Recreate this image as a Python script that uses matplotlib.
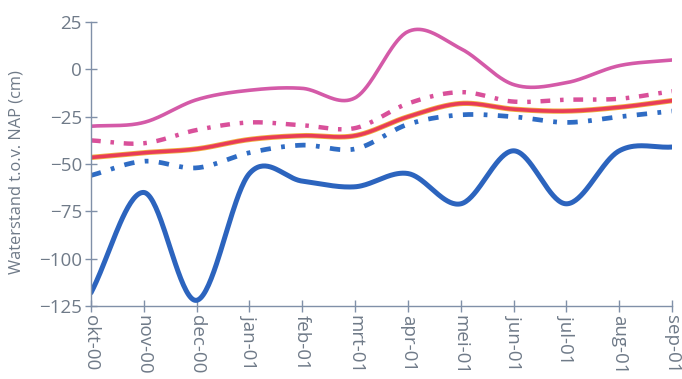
import numpy as np
import matplotlib
matplotlib.use("Agg")
import matplotlib.pyplot as plt

months = ["okt-00", "nov-00", "dec-00", "jan-01", "feb-01", "mrt-01",
          "apr-01", "mei-01", "jun-01", "jul-01", "aug-01", "sep-01"]

hoogste = [-30, -28, -16, -11, -10, -15, 20, 11, -8, -7, 2, 5]
hoog_gem = [-37.5, -39, -32, -28, -29.5, -31, -18, -12, -17, -16, -15.5, -11.5]
gemiddeld = [-46.5, -44, -42, -37, -35, -35, -25, -18, -21, -22, -20, -16.5]
laag_gem = [-56, -48.5, -52, -44, -40, -42, -29, -24, -25, -28, -25, -22]
laagste = [-118, -65, -122, -55, -59, -62, -55, -71, -43, -71, -43, -41]


def smooth(y, steps=40):
    """Catmull-Rom curve through the monthly values."""
    y = np.asarray(y, float)
    x = np.arange(len(y), dtype=float)
    p = np.concatenate([[2 * y[0] - y[1]], y, [2 * y[-1] - y[-2]]])
    xs, ys = [], []
    for i in range(len(y) - 1):
        p0, p1, p2, p3 = p[i], p[i + 1], p[i + 2], p[i + 3]
        t = np.linspace(0, 1, steps, endpoint=False)
        yy = 0.5 * ((2 * p1) + (-p0 + p2) * t + (2 * p0 - 5 * p1 + 4 * p2 - p3) * t ** 2
                    + (-p0 + 3 * p1 - 3 * p2 + p3) * t ** 3)
        xs.append(x[i] + t)
        ys.append(yy)
    xs.append([x[-1]])
    ys.append([y[-1]])
    return np.concatenate(xs), np.concatenate(ys)


fig = plt.figure(figsize=(6.82, 3.79), dpi=100)
ax = fig.add_axes([0.1334, 0.1926, 0.852, 0.749])

grey = "#6f7a88"
spine_col = "#8090a8"
fsize = 13.5

xs, ys = smooth(hoogste)
ax.plot(xs, ys, color="#d45aa8", lw=2.6, solid_capstyle="round")

xs, ys = smooth(hoog_gem)
ax.plot(xs, ys, color="#d9509a", lw=3.2, dashes=(2.2, 2.2, 0.8, 2.2))

xs, ys = smooth(gemiddeld)
ax.plot(xs, ys, color="#f0b040", lw=3.8, solid_capstyle="round")
ax.plot(xs, ys, color="#e83c58", lw=2.6, solid_capstyle="round")

xs, ys = smooth(laag_gem)
ax.plot(xs, ys, color="#2f6cc4", lw=3.4, dashes=(2.2, 2.2, 0.8, 2.2))

xs, ys = smooth(laagste)
ax.plot(xs, ys, color="#2c64be", lw=3.6, solid_capstyle="round")

ax.set_xlim(0, len(months) - 1)
ax.set_ylim(-125, 25)
ax.set_yticks([25, 0, -25, -50, -75, -100, -125])
ax.set_xticks(range(len(months)))
ax.set_xticklabels(months, rotation=-90, va="top", ha="center")

for s in ["top", "right"]:
    ax.spines[s].set_visible(False)
for s in ["left", "bottom"]:
    ax.spines[s].set_color(spine_col)
    ax.spines[s].set_linewidth(1.0)

ax.tick_params(axis="both", direction="inout", length=9, width=1.0,
               color=spine_col, labelcolor=grey, labelsize=fsize)
ax.tick_params(axis="x", pad=2)
ax.tick_params(axis="y", pad=2)
for lab in ax.get_xticklabels() + ax.get_yticklabels():
    lab.set_family("Open Sans")

ax.set_ylabel("Waterstand t.o.v. NAP (cm)", color=grey, fontsize=11.8,
              family="Open Sans")
ax.yaxis.set_label_coords(-0.1136, 0.472)

fig.savefig("out.png", dpi=100)
